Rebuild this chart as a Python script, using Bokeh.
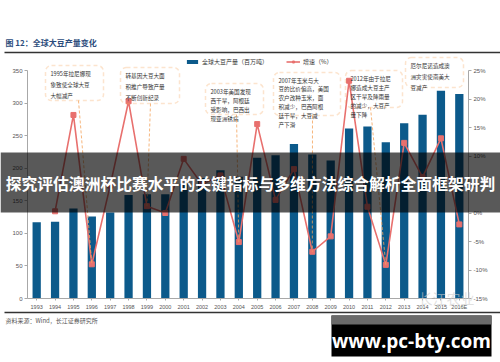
from bokeh.plotting import figure
from bokeh.models import (Range1d, LinearAxis, FixedTicker, PrintfTickFormatter,
                          Legend, LegendItem, Label, BoxAnnotation, ColumnDataSource, Arrow)
from bokeh.embed import file_html
from bokeh.resources import INLINE

# ---------------- data ----------------
years = ["1993", "1994", "1995", "1996", "1997", "1998", "1999", "2000", "2001", "2002",
         "2003", "2004", "2005", "2006", "2007", "2008", "2009", "2010", "2011", "2012",
         "2013", "2014", "2015", "2016E"]
production = [117, 118, 138, 126, 132, 159, 160, 160, 176, 185,
              197, 187, 216, 220, 237, 221, 212, 261, 264, 240,
              269, 282, 319, 314]
growth = [float("nan"), 0.3, 17.2, -9.0, 4.8, 19.6, 1.2, 0.0, 9.5, 5.0,
          6.6, -5.1, 15.6, 2.3, 7.7, -6.8, -4.1, 23.2, 1.1, -9.1,
          12.3, 6.3, 13.1, -2.0]
left_ticks = [0, 50, 100, 150, 200, 250, 300, 350]
right_ticks = [-15, -10, -5, 0, 5, 10, 15, 20, 25]

title_text = "图 12：全球大豆产量变化"
legend_labels = ["全球大豆产量（百万吨）", "增速（%）"]
source_text = "资料来源：Wind，长江证券研究所"
banner_text = "探究评估澳洲杯比赛水平的关键指标与多维方法综合解析全面框架研判"
watermark_text = "www.pc-bty.com"
notes = [
    "1995年拉尼娜现\n象致使全球大豆\n大幅减产",
    "转基因大豆大面\n积推广导致产量\n不断创新纪录",
    "2003年美国发现\n西干旱，阿根廷\n受影响，巴西出\n现亚洲锈病",
    "2007年玉米与大\n豆的比价偏高，美国\n农户改种玉米，面\n积减少，巴西阿根\n廷干旱，大豆减\n产下滑",
    "2012年由于拉尼\n娜造成大豆主产\n区干旱及降雨量\n的减少，大豆产\n量下降",
    "厄尔尼诺造成澳\n洲灾害使南美大\n豆减产",
]
note_targets = ["1996", "1999", "2004", "2008", "2012"]

# ---------------- layout / styles ----------------
FONT = "Noto Sans CJK SC"
BLUE = "#0c5a8b"
RED = "#e8706e"
ORANGE = "#f4a45c"
AX = "#a8a8a8"

W, H = 500, 362          # canvas
OX, OY = 0, 0            # page position of canvas top-left
PL, PR = 27, 468         # page x of plot area left / right
PT, PB = 70, 298         # page y of plot area top / bottom
n = len(years)
ppx = (PR - PL) / n
x_start = -(PL - OX) / ppx
x_end = n + (OX + W - PR) / ppx
lmax, lmin = left_ticks[-1], left_ticks[0]
ppy = (PB - PT) / (lmax - lmin)
gmax, gmin = right_ticks[-1], right_ticks[0]
ppg = (PB - PT) / (gmax - gmin)


def sx(x):
    return x - OX


def sy(y):
    return OY + H - y


xpos = [i + 0.5 for i in range(n)]
src = ColumnDataSource(dict(x=xpos, prod=production, growth=growth))

p = figure(width=W, height=H,
           x_range=Range1d(x_start, x_end),
           y_range=Range1d(lmin - (OY + H - PB) / ppy, lmax + (PT - OY) / ppy),
           output_backend="svg", toolbar_location=None,
           x_axis_location=None, y_axis_location=None, min_border=0)
p.extra_y_ranges = {"g": Range1d(gmin - (OY + H - PB) / ppg, gmax + (PT - OY) / ppg)}
p.outline_line_color = None
p.xgrid.grid_line_color = None
p.ygrid.grid_line_color = None
p.background_fill_color = "white"
p.border_fill_color = "white"

r_bar = p.vbar(x="x", top="prod", width=0.45, source=src, fill_color=BLUE, line_color=None)
r_line = p.line(x="x", y="growth", source=src, y_range_name="g", line_color=RED, line_width=1.6)
r_pts = p.scatter(x="x", y="growth", source=src, y_range_name="g", marker="square", size=5,
                  fill_color=RED, line_color=RED)

# axes (fixed inside the canvas)
ly = LinearAxis(fixed_location=0, bounds=(lmin, lmax), ticker=FixedTicker(ticks=left_ticks))
ry = LinearAxis(y_range_name="g", fixed_location=n, bounds=(gmin, gmax),
                ticker=FixedTicker(ticks=right_ticks),
                formatter=PrintfTickFormatter(format="%d%%"))
xa = LinearAxis(fixed_location=0, bounds=(0, n), ticker=FixedTicker(ticks=xpos),
                major_label_overrides={x: y for x, y in zip(xpos, years)})
p.add_layout(ly, "left")
p.add_layout(ry, "right")
p.add_layout(xa, "below")
for ax in (ly, ry):
    ax.major_label_text_font_size = "6px"
    ax.major_label_text_color = "#555555"
    ax.axis_line_color = AX
    ax.major_tick_line_color = AX
    ax.major_tick_out = 3
    ax.major_tick_in = 0
    ax.minor_tick_line_color = None
    ax.major_label_standoff = 2
xa.major_label_text_font_size = "5.5px"
xa.major_label_text_color = "#555555"
xa.axis_line_color = AX
xa.major_tick_line_color = AX
xa.major_tick_out = 2
xa.major_tick_in = 0
xa.minor_tick_line_color = None
xa.major_label_standoff = 3

# legend
legend = Legend(items=[LegendItem(label=legend_labels[0], renderers=[r_bar]),
                       LegendItem(label=legend_labels[1], renderers=[r_line, r_pts])],
                orientation="horizontal", location=(sx(185), sy(66)),
                label_text_font=FONT, label_text_font_size="6px", label_text_color="#333333",
                glyph_width=14, glyph_height=5, label_standoff=3, spacing=18,
                padding=0, margin=0, border_line_color=None, background_fill_alpha=0,
                label_height=8)
p.add_layout(legend, "center")

# annotation boxes
boxes = [(45, 103, 65, 100), (120, 179, 67, 103), (205, 263, 83, 114),
         (273, 340, 72, 115), (345, 402, 70, 107), (405, 463, 57, 87)]
line_h = [1.4, 1.4, 1.15, 1.12, 1.15, 1.4]
for (l, r, t, b), txt, lh in zip(boxes, notes, line_h):
    p.add_layout(BoxAnnotation(left=sx(l), right=sx(r), top=sy(t), bottom=sy(b),
                               left_units="screen", right_units="screen",
                               top_units="screen", bottom_units="screen",
                               fill_color=None, line_color=ORANGE, line_width=1.5,
                               line_dash="4 3", border_radius=6))
    p.add_layout(Label(x=sx(l + 5), y=sy(t + 4), x_units="screen", y_units="screen",
                       text=txt, text_font=FONT, text_font_size="5.6px", text_color="#333333",
                       text_baseline="top", text_align="left", text_line_height=lh))

# leader lines
starts = [(78, 100), (150, 103), (236, 114), (312, 115), (370, 107)]
for (x0, y0), tgt in zip(starts, note_targets):
    i = years.index(tgt)
    p.add_layout(Arrow(end=None, x_start=sx(x0), y_start=sy(y0), start_units="screen",
                       x_end=xpos[i], y_end=growth[i], end_units="data", y_range_name="g",
                       line_color=ORANGE, line_width=1, line_dash="3 2", line_alpha=0.8))

# title, rules, footer
p.add_layout(Label(x=sx(5), y=sy(42), x_units="screen", y_units="screen", text=title_text,
                   text_font=FONT, text_font_size="8px", text_font_style="bold",
                   text_color="#2c4c7c", text_baseline="middle"))
for ry_ in (52, 312):
    p.add_layout(BoxAnnotation(left=sx(4), right=sx(500), top=sy(ry_ - 0.8), bottom=sy(ry_ + 0.8),
                               left_units="screen", right_units="screen",
                               top_units="screen", bottom_units="screen",
                               fill_color="#333333", fill_alpha=1, line_color=None))
p.add_layout(Label(x=sx(5), y=sy(320), x_units="screen", y_units="screen", text=source_text,
                   text_font=FONT, text_font_size="6px", text_color="#555555",
                   text_baseline="middle"))

# faint logo
p.add_layout(Label(x=sx(418), y=sy(297), x_units="screen", y_units="screen", text="长江农业",
                   text_font=FONT, text_font_size="14px", text_color="#cccccc", text_alpha=0.6,
                   text_baseline="middle"))

# banner overlay
p.add_layout(BoxAnnotation(left=sx(0), right=sx(500), top=sy(152), bottom=sy(212),
                           left_units="screen", right_units="screen",
                           top_units="screen", bottom_units="screen",
                           fill_color="black", fill_alpha=0.65, line_color=None))
p.add_layout(Label(x=sx(250), y=sy(183), x_units="screen", y_units="screen", text=banner_text,
                   text_font=FONT, text_font_size="15.8px", text_font_style="bold",
                   text_color="white", text_align="center", text_baseline="middle"))

# watermark
p.add_layout(BoxAnnotation(left=sx(331), right=sx(491), top=sy(315), bottom=sy(356),
                           left_units="screen", right_units="screen",
                           top_units="screen", bottom_units="screen",
                           fill_color="black", fill_alpha=1, line_color=None))
p.add_layout(BoxAnnotation(left=sx(331), right=sx(491), top=sy(315), bottom=sy(324),
                           left_units="screen", right_units="screen",
                           top_units="screen", bottom_units="screen",
                           fill_color="#6a6a6a", fill_alpha=1, line_color=None))
p.add_layout(Label(x=sx(411), y=sy(340), x_units="screen", y_units="screen", text=watermark_text,
                   text_font="Open Sans", text_font_size="19px", text_font_style="bold",
                   text_color="white", text_align="center", text_baseline="middle"))

open("out.html", "w").write(file_html(p, INLINE))
